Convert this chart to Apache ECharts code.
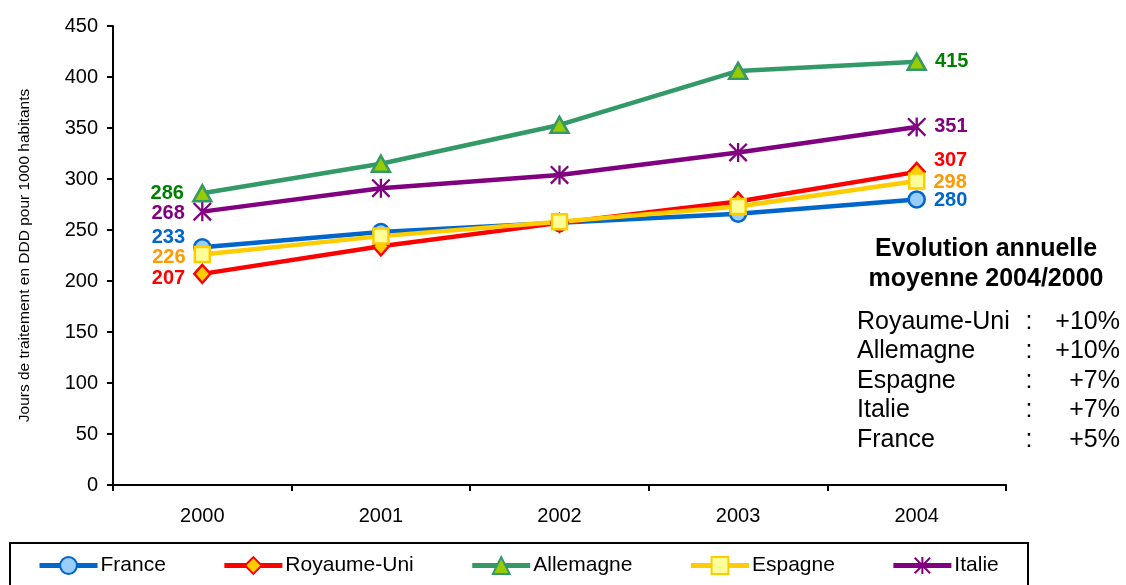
<!DOCTYPE html>
<html>
<head>
<meta charset="utf-8">
<script src="https://cdn.jsdelivr.net/npm/echarts@6/dist/echarts.min.js"></script>
<style>html,body{margin:0;padding:0;background:#fff;}#c{width:1126px;height:585px;}</style>
</head>
<body>
<div id="c"></div>
<script>
// ---- data ----
var years = ['2000', '2001', '2002', '2003', '2004'];
var france = [233, 248, 257, 266, 280];
var royaumeUni = [207, 234, 257, 278, 307];
var allemagne = [286, 315, 353, 406, 415];
var espagne = [226, 244, 258, 273, 298];
var italie = [268, 291, 304, 326, 351];
var yTicks = { min: 0, max: 450, interval: 50 };
var noteTitle = ['Evolution annuelle', 'moyenne 2004/2000'];
var noteNames = ['Royaume-Uni', 'Allemagne', 'Espagne', 'Italie', 'France'];
var noteValues = ['+10%', '+10%', '+7%', '+7%', '+5%'];

// ---- styles ----
var FONT = '"Liberation Sans", Arial, sans-serif';
var asterisk = 'path://M8.8,0L11.2,0L11.2,20L8.8,20Z M0,1.7L1.7,0L20,18.3L18.3,20Z M18.3,0L20,1.7L1.7,20L0,18.3Z';
var styles = [
  { name: 'France', data: france, line: '#0066CC', fill: '#99CCFF', border: '#0066CC', label: '#0066CC', symbol: 'circle', size: 16, off0: [0, -10], off1: [0, 1] },
  { name: 'Royaume-Uni', data: royaumeUni, line: '#FF0000', fill: '#FFCC00', border: '#FF0000', label: '#FF0000', symbol: 'diamond', size: [16, 18], off0: [0, 5], off1: [0, -11] },
  { name: 'Allemagne', data: allemagne, line: '#339966', fill: '#99CC00', border: '#339966', label: '#008000', symbol: 'triangle', size: [18, 16], off0: [0, 0], off1: [0, 0] },
  { name: 'Espagne', data: espagne, line: '#FFCC00', fill: '#FFFF99', border: '#FFCC00', label: '#FF9900', symbol: 'rect', size: 15, off0: [0, 3], off1: [0, 1] },
  { name: 'Italie', data: italie, line: '#800080', fill: '#800080', border: '#800080', label: '#800080', symbol: asterisk, size: 19, off0: [0, 2], off1: [0, 0] }
];

var series = styles.map(function (s) {
  var last = s.data.length - 1;
  return {
    name: s.name,
    type: 'line',
    symbol: s.symbol,
    symbolSize: s.size,
    showAllSymbol: true,
    lineStyle: { color: s.line, width: 4.5 },
    itemStyle: { color: s.fill, borderColor: s.border, borderWidth: s.symbol === asterisk ? 0 : 2.5 },
    emphasis: { disabled: true },
    z: 2,
    data: s.data.map(function (v, i) {
      var item = { value: v };
      if (i === 0 || i === last) {
        item.label = {
          show: true,
          position: i === 0 ? 'left' : 'right',
          distance: 8,
          offset: i === 0 ? s.off0 : s.off1,
          color: s.label,
          fontFamily: FONT,
          fontWeight: 'bold',
          fontSize: 20
        };
      }
      return item;
    })
  };
});

var graphics = [
  { type: 'rect', shape: { x: 10, y: 543, width: 1018, height: 60 }, style: { fill: 'none', stroke: '#000', lineWidth: 2 }, z: 0 }
];
noteTitle.forEach(function (t, i) {
  graphics.push({ type: 'text', x: 986, y: 249 + i * 30, style: { text: t, fill: '#000', font: 'bold 25px ' + FONT, textAlign: 'center', textVerticalAlign: 'middle' } });
});
noteNames.forEach(function (n, i) {
  var y = 322 + i * 29.5;
  graphics.push({ type: 'text', x: 857, y: y, style: { text: n, fill: '#000', font: '25px ' + FONT, textAlign: 'left', textVerticalAlign: 'middle' } });
  graphics.push({ type: 'text', x: 1029, y: y, style: { text: ':', fill: '#000', font: '25px ' + FONT, textAlign: 'center', textVerticalAlign: 'middle' } });
  graphics.push({ type: 'text', x: 1120, y: y, style: { text: noteValues[i], fill: '#000', font: '25px ' + FONT, textAlign: 'right', textVerticalAlign: 'middle' } });
});

var chart = echarts.init(document.getElementById('c'), null, { renderer: 'canvas' });
chart.setOption({
  animation: false,
  backgroundColor: '#fff',
  grid: { left: 113, right: 120, top: 26, bottom: 100, containLabel: false },
  xAxis: {
    type: 'category',
    data: years,
    boundaryGap: true,
    axisLine: { lineStyle: { color: '#000', width: 2 } },
    axisTick: { show: true, length: 6, lineStyle: { color: '#000', width: 2 } },
    axisLabel: { color: '#000', fontFamily: FONT, fontSize: 20, margin: 21 },
    splitLine: { show: false }
  },
  yAxis: {
    type: 'value',
    min: yTicks.min, max: yTicks.max, interval: yTicks.interval,
    name: 'Jours de traitement en DDD pour 1000 habitants',
    nameLocation: 'middle',
    nameRotate: 90,
    nameGap: 80,
    nameTextStyle: { color: '#000', fontFamily: FONT, fontSize: 15.5 },
    axisLine: { show: true, lineStyle: { color: '#000', width: 2 } },
    axisTick: { show: true, inside: false, length: 6, lineStyle: { color: '#000', width: 2 } },
    axisLabel: { color: '#000', fontFamily: FONT, fontSize: 20, margin: 15 },
    splitLine: { show: false }
  },
  legend: {
    left: 37,
    top: 555,
    padding: 0,
    itemWidth: 58,
    itemHeight: 21,
    itemGap: 56,
    lineStyle: { width: 5 },
    textStyle: { color: '#000', fontFamily: FONT, fontSize: 21, padding: [0, 0, 0, -2] },
    data: styles.map(function (s) { return s.name; })
  },
  graphic: graphics,
  series: series
});
</script>
</body>
</html>
